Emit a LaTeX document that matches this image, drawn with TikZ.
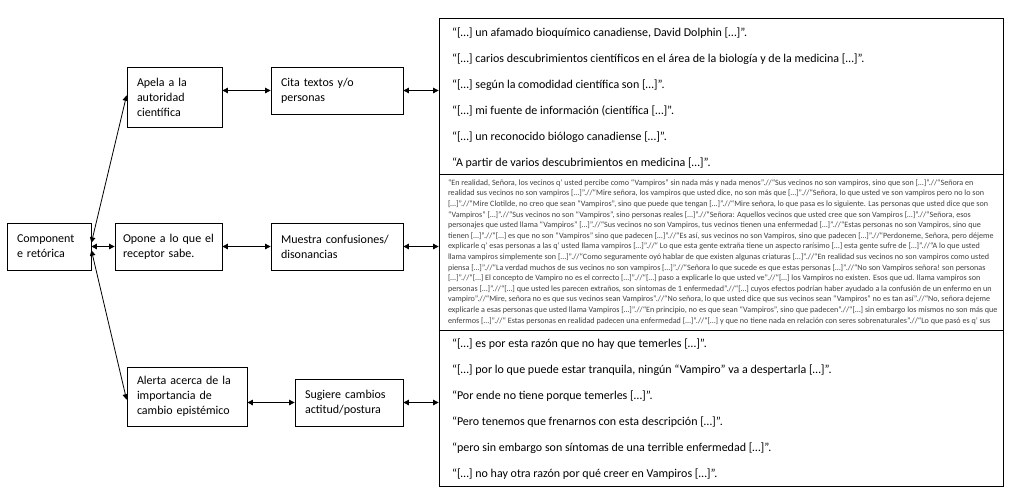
\documentclass[tikz,border=0pt]{standalone}
\usepackage{fontspec}
\setmainfont{Carlito}
\usetikzlibrary{arrows.meta}

\begin{document}
\begin{tikzpicture}[x=1pt, y=-1pt, line width=0.8pt, >={Triangle[length=5.5pt,width=5.5pt]},
  caja/.style={draw, align=left, inner xsep=10pt, inner ysep=0pt, font=\fontsize{12}{15}\selectfont},
  marco/.style={draw, inner sep=0pt, minimum width=564pt, minimum height=156pt},
  cita/.style={align=left, inner sep=0pt, anchor=west, font=\fontsize{12}{26}\selectfont},
  menuda/.style={align=left, inner sep=0pt, anchor=west, text=black!75, font=\fontsize{8.1}{10.6}\selectfont}]
  % white page of the same size as the reference, margins included
  \useasboundingbox[fill=white] (0,0) rectangle (1012,501);

  % left column of boxes
  \node[caja, text width=64pt, minimum height=47pt] (comp) at (49,246.5) {Component\\e retórica};
  \node[caja, text width=75pt, minimum height=60pt] (apela) at (174.5,97) {Apela a la\\autoridad\\científica};
  \node[caja, inner xsep=8pt, text width=91pt, minimum height=47pt] (opone) at (168.5,246.5) {Opone a lo que el\\receptor sabe.};
  \node[caja, text width=100pt, minimum height=59pt] (alerta) at (187,396.5) {Alerta acerca de la\\importancia de\\cambio epistémico};
  \node[caja, text width=112pt, minimum height=47pt] (cita) at (337,90.5) {Cita textos y/o\\personas};
  \node[caja, text width=112pt, minimum height=47pt] (muestra) at (337,246.5) {Muestra confusiones/\\disonancias};
  \node[caja, text width=88pt, minimum height=47pt] (sugiere) at (349,402.5) {Sugiere cambios\\actitud/postura};

  % the three frames on the right
  \node[marco] (citas) at (721,96) {};
  \node[marco] (medio) at (721,252) {};
  \node[marco] (bajo) at (721,408) {};
  \draw[line width=1.6pt] (medio.south west) -- (medio.south east);

  \node[cita] (textoCitas) at ([xshift=13pt,yshift=-2pt]citas.west) {%
    “[…] un afamado bioquímico canadiense, David Dolphin […]”.\\
    “[…] carios descubrimientos científicos en el área de la biología y de la medicina […]”.\\
    “[…] según la comodidad científica son […]”.\\
    “[…] mi fuente de información (científica […]”.\\
    “[…] un reconocido biólogo canadiense […]”.\\
    “A partir de varios descubrimientos en medicina […]”.};

  % a line that opens with a bracket needs {[} after \\
  \node[menuda] (textoMedio) at ([xshift=9pt]medio.west) {%
    “En realidad, Señora, los vecinos q' usted percibe como “Vampiros” sin nada más y nada menos”.//“Sus vecinos no son vampiros, sino que son […]”.//“Señora en\\
    realidad sus vecinos no son vampiros […]”.//“Mire señora, los vampiros que usted dice, no son más que […]”.//“Señora, lo que usted ve son vampiros pero no lo son\\
    {[}…]”.//“Mire Clotilde, no creo que sean “Vampiros”, sino que puede que tengan […]”.//“Mire señora, lo que pasa es lo siguiente. Las personas que usted dice que son\\
    “Vampiros” […]”.//“Sus vecinos no son “Vampiros”, sino personas reales […]”.//“Señora: Aquellos vecinos que usted cree que son Vampiros […]”.//“Señora, esos\\
    personajes que usted llama “Vampiros” […]”.//“Sus vecinos no son Vampiros, tus vecinos tienen una enfermedad […]”.//“Estas personas no son Vampiros, sino que\\
    tienen […]”.//“[…] es que no son “Vampiros” sino que padecen […]”.//“Es así, sus vecinos no son Vampiros, sino que padecen […]”.//“Perdoneme, Señora, pero déjeme\\
    explicarle q' esas personas a las q' usted llama vampiros […]”.//“ Lo que esta gente extraña tiene un aspecto rarísimo […] esta gente sufre de […]”.//“A lo que usted\\
    llama vampiros simplemente son […]”.//“Como seguramente oyó hablar de que existen algunas criaturas […]”.//“En realidad sus vecinos no son vampiros como usted\\
    piensa […]”.//“La verdad muchos de sus vecinos no son vampiros […]”.//“Señora lo que sucede es que estas personas […]”.//“No son Vampiros señora! son personas\\
    {[}…]”.//“[…] El concepto de Vampiro no es el correcto […]”.//“[…] paso a explicarle lo que usted ve”.//“[…] los Vampiros no existen. Esos que ud. llama vampiros son\\
    personas […]”.//“[…] que usted les parecen extraños, son síntomas de 1 enfermedad”.//“[…] cuyos efectos podrían haber ayudado a la confusión de un enfermo en un\\
    vampiro”.//“Mire, señora no es que sus vecinos sean Vampiros”.//“No señora, lo que usted dice que sus vecinos sean “Vampiros” no es tan así”.//“No, señora dejeme\\
    explicarle a esas personas que usted llama Vampiros […]”.//“En principio, no es que sean “Vampiros”, sino que padecen”.//“[…] sin embargo los mismos no son más que\\
    enfermos […]”.//“ Estas personas en realidad padecen una enfermedad […]”.//“[…] y que no tiene nada en relación con seres sobrenaturales”.//“Lo que pasó es q' sus};

  \node[cita] (textoBajo) at ([xshift=13pt,yshift=-1.5pt]bajo.west) {%
    “[…] es por esta razón que no hay que temerles […]”.\\
    “[…] por lo que puede estar tranquila, ningún “Vampiro” va a despertarla […]”.\\
    “Por ende no tiene porque temerles […]”.\\
    “Pero tenemos que frenarnos con esta descripción […]”.\\
    “pero sin embargo son síntomas de una terrible enfermedad […]”.\\
    “[…] no hay otra razón por qué creer en Vampiros […]”.};

  % connectors
  \draw[<->] (comp.5) -- (apela.178);
  \draw[<->] (comp.-5) -- (alerta.183);
  \draw[<->] (comp.east) -- (opone.west);
  \draw[<->] (cita.west -| apela.east) -- (cita.west);
  \draw[<->] (opone.east) -- (muestra.west);
  \draw[<->] (sugiere.west -| alerta.east) -- (sugiere.west);
  \draw[<->] (cita.east) -- (cita.east -| citas.west);
  \draw[<->] (muestra.east) -- (muestra.east -| medio.west);
  \draw[<->] (sugiere.east) -- (sugiere.east -| bajo.west);
\end{tikzpicture}
\end{document}
